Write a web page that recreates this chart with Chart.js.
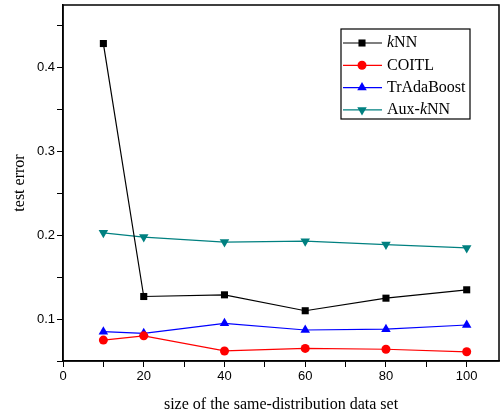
<!DOCTYPE html>
<html>
<head>
<meta charset="utf-8">
<script src="https://cdn.jsdelivr.net/npm/chart.js@4.4.0/dist/chart.umd.min.js"></script>
<style>
  html, body { margin: 0; padding: 0; background: #fff; }
  #wrap { width: 501px; height: 418px; }
</style>
</head>
<body>
<div id="wrap"><canvas id="chart" width="501" height="418"></canvas></div>
<script>
// Data
const sizes = [10, 20, 40, 60, 80, 100];
const knnErr = [0.429, 0.127, 0.129, 0.110, 0.125, 0.135];
const coitlErr = [0.075, 0.080, 0.062, 0.065, 0.064, 0.061];
const tradaErr = [0.085, 0.083, 0.095, 0.087, 0.088, 0.093];
const auxKnnErr = [0.203, 0.198, 0.192, 0.193, 0.189, 0.185];

const xTickValues = [0, 10, 20, 30, 40, 50, 60, 70, 80, 90, 100];
const xTickLabels = ['0', '', '20', '', '40', '', '60', '', '80', '', '100'];
const yTickValues = [0.05, 0.1, 0.15, 0.2, 0.25, 0.3, 0.35, 0.4, 0.45];
const yTickLabels = ['', '0.1', '', '0.2', '', '0.3', '', '0.4', ''];

function toPoints(vals) {
    return sizes.map((s, i) => ({ x: s, y: vals[i] }));
}

function makeSet(label, vals, color, style, radius, rotation) {
    return {
        label: label,
        data: toPoints(vals),
        borderColor: color,
        backgroundColor: color,
        borderWidth: 1.2,
        pointStyle: style,
        pointRadius: radius,
        pointRotation: rotation || 0,
        pointBorderWidth: 0,
        tension: 0
    };
}

// Draws the plot frame and the boxed legend (line + marker + label)
const framePlugin = {
    id: 'frame',
    afterDraw(chart) {
        const ctx = chart.ctx;
        const a = chart.chartArea;
        ctx.save();
        ctx.strokeStyle = '#000';
        ctx.lineWidth = 1.5;
        ctx.strokeRect(a.left, a.top, a.right - a.left, a.bottom - a.top);

        // legend box
        const bx = 341, by = 29, bw = 129, bh = 90;
        ctx.lineWidth = 1.2;
        ctx.fillStyle = '#fff';
        ctx.fillRect(bx, by, bw, bh);
        ctx.strokeRect(bx, by, bw, bh);

        const font = '16px "Liberation Serif", "Times New Roman", serif';
        const italic = 'italic 16px "Liberation Serif", "Times New Roman", serif';
        ctx.textBaseline = 'middle';
        chart.data.datasets.forEach((ds, i) => {
            const y = 43 + i * 22.3;
            ctx.strokeStyle = ds.borderColor;
            ctx.lineWidth = 1.2;
            ctx.beginPath();
            ctx.moveTo(343, y);
            ctx.lineTo(382, y);
            ctx.stroke();
            ctx.fillStyle = ds.backgroundColor;
            Chart.helpers.drawPoint(ctx, {
                pointStyle: ds.pointStyle,
                rotation: ds.pointRotation,
                radius: ds.pointRadius,
                borderWidth: 0
            }, 362, y);
            ctx.fillStyle = '#000';
            if (ds.label === 'kNN' || ds.label === 'Aux-kNN') {
                // italic k
                let x = 387;
                const pre = ds.label === 'Aux-kNN' ? 'Aux-' : '';
                ctx.font = font;
                ctx.fillText(pre, x, y);
                x += ctx.measureText(pre).width;
                ctx.font = italic;
                ctx.fillText('k', x, y);
                x += ctx.measureText('k').width;
                ctx.font = font;
                ctx.fillText('NN', x, y);
            } else {
                ctx.font = font;
                ctx.fillText(ds.label, 387, y);
            }
        });
        ctx.restore();
    }
};

const ctx = document.getElementById('chart').getContext('2d');
const chart = new Chart(ctx, {
    type: 'line',
    data: {
        datasets: [
            makeSet('kNN', knnErr, '#000000', 'rect', 5),
            makeSet('COITL', coitlErr, '#ff0000', 'circle', 4.5),
            makeSet('TrAdaBoost', tradaErr, '#0000ff', 'triangle', 5.5),
            makeSet('Aux-kNN', auxKnnErr, '#008080', 'triangle', 5.5, 180)
        ]
    },
    options: {
        responsive: false,
        animation: false,
        layout: { autoPadding: false, padding: { top: 5, right: 2, left: 0, bottom: 0 } },
        plugins: {
            legend: { display: false },
            tooltip: { enabled: false }
        },
        scales: {
            x: {
                type: 'linear',
                min: 0,
                max: 108,
                afterBuildTicks(axis) {
                    axis.ticks = xTickValues.map(v => ({ value: v }));
                },
                afterFit(axis) {
                    axis.height = 57;
                    axis.paddingRight = 0;
                },
                grid: {
                    drawOnChartArea: false,
                    drawTicks: true,
                    tickLength: 6,
                    color: '#000',
                    tickColor: '#000'
                },
                border: { color: '#000', width: 1.5 },
                ticks: {
                    color: '#000',
                    padding: 2,
                    maxRotation: 0,
                    autoSkip: false,
                    font: { family: '"Liberation Sans", Arial, sans-serif', size: 13 },
                    callback(value, index) { return xTickLabels[index]; }
                },
                title: {
                    display: true,
                    text: 'size of the same-distribution data set',
                    color: '#000',
                    padding: { top: 8 },
                    font: { family: '"Liberation Serif", "Times New Roman", serif', size: 16 }
                }
            },
            y: {
                type: 'linear',
                min: 0.05,
                max: 0.475,
                afterBuildTicks(axis) {
                    axis.ticks = yTickValues.map(v => ({ value: v }));
                },
                afterFit(axis) {
                    axis.width = 63;
                    axis.paddingTop = 0;
                },
                grid: {
                    drawOnChartArea: false,
                    drawTicks: true,
                    tickLength: 6,
                    color: '#000',
                    tickColor: '#000'
                },
                border: { color: '#000', width: 1.5 },
                ticks: {
                    color: '#000',
                    padding: 2,
                    autoSkip: false,
                    font: { family: '"Liberation Sans", Arial, sans-serif', size: 13 },
                    callback(value, index) { return yTickLabels[index]; }
                },
                title: {
                    display: true,
                    text: 'test error',
                    color: '#000',
                    padding: { top: 10, bottom: 0 },
                    font: { family: '"Liberation Serif", "Times New Roman", serif', size: 16 }
                }
            }
        }
    },
    plugins: [framePlugin]
});
</script>
</body>
</html>
